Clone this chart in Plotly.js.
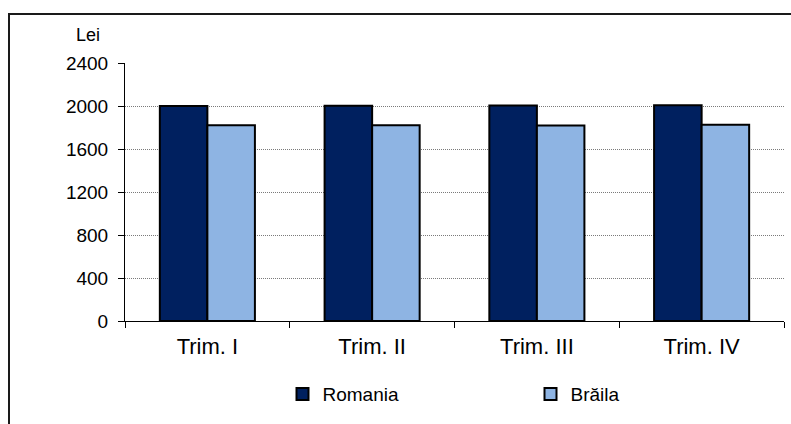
<!DOCTYPE html>
<html>
<head>
<meta charset="utf-8">
<script src="https://cdn.plot.ly/plotly-3.0.1.min.js"></script>
<style>
html,body{margin:0;padding:0;background:#fff;overflow:hidden;}
#chart{width:791px;height:424px;position:absolute;left:0;top:0;}
#frame{position:absolute;left:8px;top:13px;width:900px;height:600px;border-left:2px solid #1a1a1a;border-top:2px solid #1a1a1a;pointer-events:none;}
</style>
</head>
<body>
<div id="chart"></div>
<div id="frame"></div>
<script>
var categories = ["Trim. I", "Trim. II", "Trim. III", "Trim. IV"];
var romania = [2000, 2003, 2004, 2008];
var braila = [1822, 1822, 1818, 1825];
var seriesNames = ["Romania", "Brăila"];
var yTicks = [0, 400, 800, 1200, 1600, 2000, 2400];

var font = "Liberation Sans, Arial, sans-serif";
var traces = [
  {type: "bar", name: seriesNames[0], x: categories, y: romania,
   marker: {color: "#00205f", line: {color: "#000000", width: 2}}},
  {type: "bar", name: seriesNames[1], x: categories, y: braila,
   marker: {color: "#8eb4e3", line: {color: "#000000", width: 2}}}
];
var layout = {
  width: 791, height: 424,
  margin: {l: 125, r: 7, t: 63, b: 103, pad: 0, autoexpand: false},
  paper_bgcolor: "#ffffff", plot_bgcolor: "#ffffff",
  font: {family: font, color: "#000000", size: 18},
  barmode: "group", bargap: 0.423, bargroupgap: 0,
  showlegend: true,
  legend: {orientation: "h", x: 0.239, y: -0.21, xanchor: "left", yanchor: "top",
           font: {family: font, size: 19, color: "#000"}, entrywidth: 203, entrywidthmode: "pixels",
           itemwidth: 30, traceorder: "normal", bgcolor: "rgba(0,0,0,0)"},
  xaxis: {type: "category", showline: true, linecolor: "#000", linewidth: 1,
          ticks: "outside", tickson: "boundaries", ticklen: 6, tickcolor: "#000",
          tickfont: {family: font, size: 22, color: "#000"}, showgrid: false, zeroline: false,
          ticklabelstandoff: 6, fixedrange: true, automargin: false},
  yaxis: {range: [0, 2400], tickvals: yTicks, ticktext: yTicks.map(String),
          showline: true, linecolor: "#000", linewidth: 1,
          ticks: "outside", ticklen: 6, tickcolor: "#000",
          tickfont: {family: font, size: 19, color: "#000"},
          showgrid: true, gridcolor: "#7a7a7a", gridwidth: 1, griddash: "1px,1px",
          zeroline: false, ticklabelstandoff: 6, fixedrange: true, automargin: false},
  annotations: [{text: "Lei", xref: "paper", yref: "paper", x: -0.0561, y: 1.11,
                 xanchor: "center", yanchor: "middle", showarrow: false,
                 font: {family: font, size: 18, color: "#000"}}]
};
Plotly.newPlot("chart", traces, layout, {displayModeBar: false, staticPlot: true});
</script>
</body>
</html>
